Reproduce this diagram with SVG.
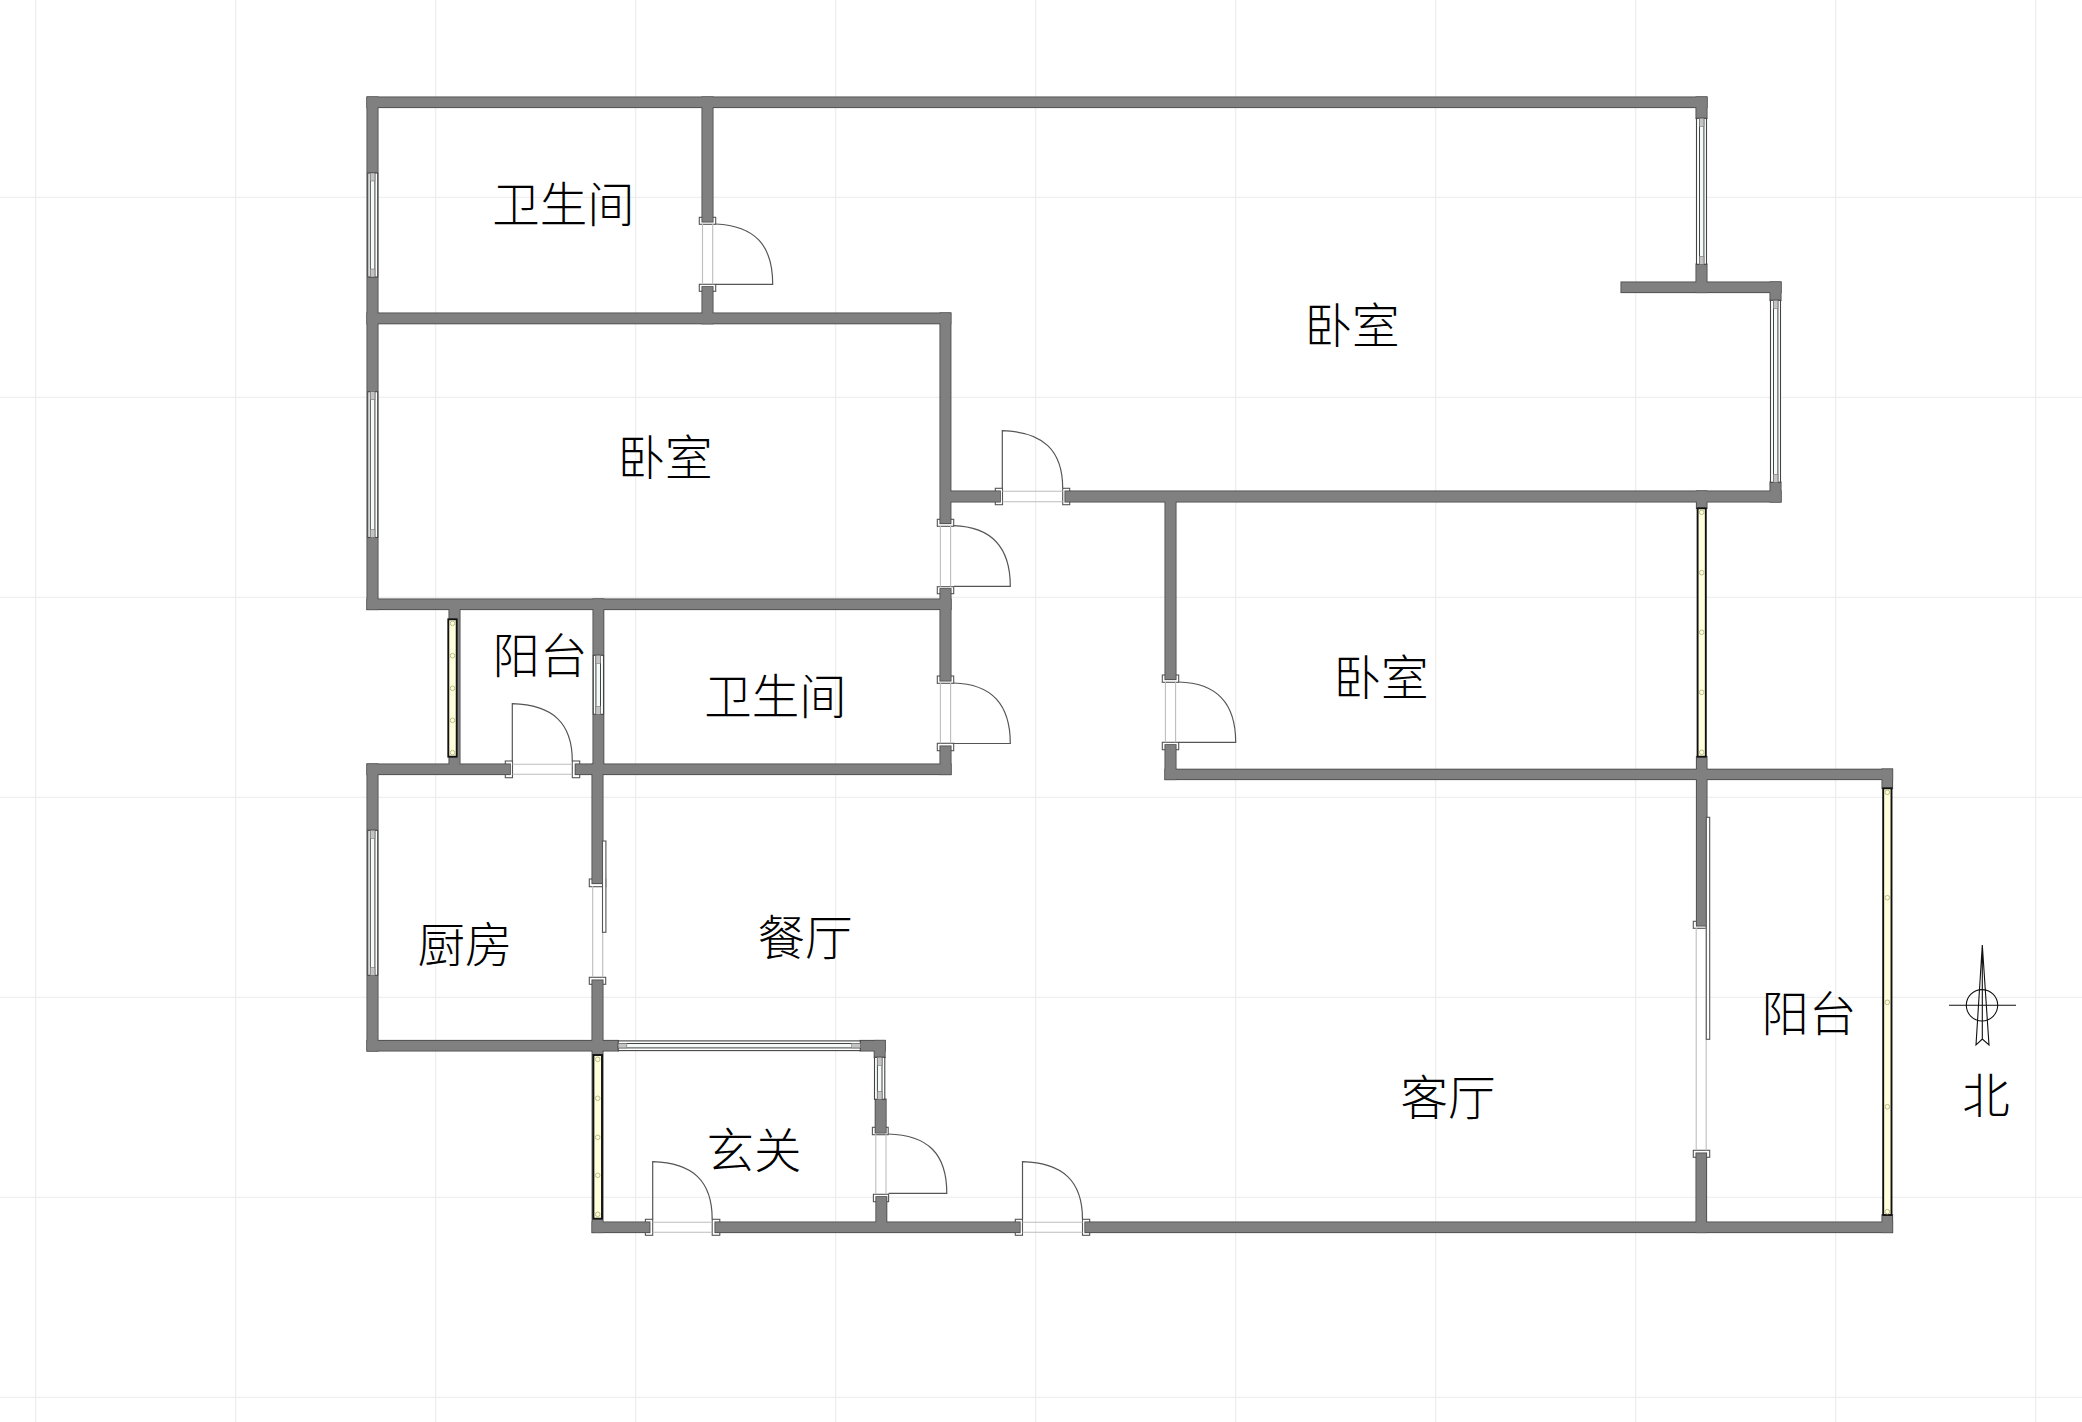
<svg xmlns="http://www.w3.org/2000/svg" xmlns:xlink="http://www.w3.org/1999/xlink" width="2082" height="1422" viewBox="0 0 2082 1422">
<style>
.grid{stroke:#ebebeb;stroke-width:1;fill:none}
.wo{fill:#808080;stroke:#444;stroke-width:1.6}
.wf{fill:#808080;stroke:none}
.cap{fill:#fff;stroke:#555;stroke-width:1.1}
.gap{stroke:#bdbdbd;stroke-width:1.1;fill:none}
.leaf{fill:none;stroke:#555;stroke-width:1.2}
.wino{fill:#fbfefc;stroke:#444;stroke-width:1.1}
.wini{fill:#f4faf7;stroke:#444;stroke-width:1}
.wing{fill:#c4c4c4;stroke:#777;stroke-width:.6}
.bar{fill:#ffffdc;stroke:#111;stroke-width:1.9}
.dot{fill:#ffffe0;stroke:#bdbd80;stroke-width:1}
.label{font-family:"Noto Sans CJK SC","Noto Sans",sans-serif;font-size:47.5px;font-weight:300;fill:#000;text-anchor:middle}
.cmp{fill:none;stroke:#111;stroke-width:1.1}
</style>
<defs>
<g id="wallset">
<rect x="367.3" y="97.3" width="1339.4" height="10"/>
<rect x="367.3" y="97.3" width="10.4" height="512"/>
<rect x="702.3" y="97.3" width="10.4" height="124.4"/>
<rect x="702.3" y="287" width="10.4" height="36.5"/>
<rect x="367.3" y="313.3" width="583.2" height="10.2"/>
<rect x="940.3" y="313.3" width="10.3" height="210"/>
<rect x="940.3" y="589" width="10.4" height="91.7"/>
<rect x="940.3" y="746.3" width="10.4" height="28"/>
<rect x="367.3" y="599.3" width="583.4" height="10"/>
<rect x="367.3" y="764.3" width="142.7" height="10"/>
<rect x="575.5" y="764.3" width="375.2" height="10"/>
<rect x="593.3" y="599.3" width="10.2" height="170"/>
<rect x="592.3" y="764.3" width="10.4" height="119"/>
<rect x="592.3" y="980.3" width="10.4" height="70.4"/>
<rect x="592.4" y="1040.7" width="10.3" height="191.6"/>
<rect x="449.3" y="605" width="10.4" height="165"/>
<rect x="367.3" y="764.3" width="10.4" height="286.4"/>
<rect x="367.3" y="1040.7" width="250.9" height="10"/>
<rect x="860.3" y="1040.7" width="24.5" height="10"/>
<rect x="874.5" y="1040.7" width="10.3" height="16.6"/>
<rect x="875.5" y="1099.3" width="10.3" height="33.4"/>
<rect x="876.2" y="1197" width="10.3" height="32"/>
<rect x="592.4" y="1222.3" width="57.2" height="10"/>
<rect x="715.3" y="1222.3" width="304.5" height="10"/>
<rect x="1085.2" y="1222.3" width="807.1" height="10"/>
<rect x="1882.3" y="769.3" width="10" height="19"/>
<rect x="1882.3" y="1215" width="10" height="17.3"/>
<rect x="1165.3" y="769.5" width="727" height="9.8"/>
<rect x="1165.3" y="495" width="10.4" height="184.3"/>
<rect x="1165.3" y="745" width="10.4" height="34.3"/>
<rect x="1696.7" y="491.3" width="10" height="17"/>
<rect x="1696.7" y="756.7" width="10" height="169"/>
<rect x="1696.3" y="1153.3" width="10" height="79"/>
<rect x="1696.3" y="97.3" width="10.4" height="21"/>
<rect x="1696.3" y="264.3" width="10.4" height="28"/>
<rect x="1621.3" y="282.3" width="159.4" height="10"/>
<rect x="1770.3" y="282.3" width="10.4" height="18"/>
<rect x="1770.3" y="482.3" width="10.4" height="19.4"/>
<rect x="945" y="491.3" width="55" height="10.4"/>
<rect x="1065.3" y="491.3" width="715.4" height="10.4"/>
</g>
</defs>
<rect width="2082" height="1422" fill="#fff"/>
<g id="grid" class="grid">
<path d="M35.7 0V1422M235.7 0V1422M435.7 0V1422M635.7 0V1422M835.7 0V1422M1035.7 0V1422M1235.7 0V1422M1435.7 0V1422M1635.7 0V1422M1835.7 0V1422M2035.7 0V1422"/>
<path d="M0 197.3H2082M0 397.3H2082M0 597.3H2082M0 797.3H2082M0 997.3H2082M0 1197.3H2082M0 1397.3H2082"/>
</g>
<g id="door-openings">
<rect class="cap" x="699.3" y="217.3" width="16.4" height="7"/><rect class="cap" x="699.3" y="284.3" width="16.4" height="7"/>
<rect class="cap" x="995.3" y="488.3" width="7.2" height="16.4"/><rect class="cap" x="1062.7" y="488.3" width="7" height="16.4"/>
<rect class="cap" x="937.3" y="519.3" width="16.4" height="7"/><rect class="cap" x="937.3" y="586.7" width="16.4" height="7"/>
<rect class="cap" x="937.3" y="676" width="16.4" height="7.3"/><rect class="cap" x="937.3" y="743.3" width="16.4" height="7.4"/>
<rect class="cap" x="1162.3" y="675" width="16.4" height="7.3"/><rect class="cap" x="1162.3" y="742.3" width="16.4" height="7.4"/>
<rect class="cap" x="505.3" y="761" width="7.2" height="16.7"/><rect class="cap" x="572.3" y="761" width="7.4" height="16.7"/>
<rect class="cap" x="589.3" y="879" width="16.4" height="7.7"/><rect class="cap" x="589.3" y="977.3" width="16.4" height="7"/>
<rect class="cap" x="872.4" y="1127.3" width="15.8" height="7.4"/><rect class="cap" x="873.4" y="1194.3" width="15.2" height="7.4"/>
<rect class="cap" x="645.4" y="1219.3" width="7.3" height="16"/><rect class="cap" x="712.2" y="1219.3" width="7.6" height="16"/>
<rect class="cap" x="1015.3" y="1219.3" width="7.2" height="16"/><rect class="cap" x="1082.5" y="1219.3" width="7.2" height="16"/>
<rect class="cap" x="1693.3" y="921.3" width="13" height="7"/><rect class="cap" x="1693.3" y="1150.3" width="16.4" height="7"/>
<path class="gap" d="M702.5 224V284.3M712.7 224V284.3M1002.5 491.3H1062.7M1002.5 501.7H1062.7M940.4 526V586.7M950.6 526V586.7M940.4 683V743.3M950.6 683V743.3M1165.4 682V742.3M1175.6 682V742.3M512.5 764.3H572.3M512.5 774.3H572.3M592.7 886V977.3M602.7 886V977.3M875.8 1134V1194.3M886 1134V1194.3M652.7 1222.3H712.2M652.7 1232.3H712.2M1022.5 1222.3H1082.5M1022.5 1232.3H1082.5M1696.2 928V1150.3M1706.2 928V1150.3"/>
</g>
<g id="walls">
<use xlink:href="#wallset" href="#wallset" class="wo"/>
<use xlink:href="#wallset" href="#wallset" class="wf"/>
</g>
<g id="windows">
<g id="window-1"><rect class="wino" x="367.8" y="173" width="9.9" height="104"/><rect class="wini" x="370.3" y="173" width="4.6" height="104"/><rect class="wing" x="370.3" y="173" width="4.6" height="8"/><rect class="wing" x="370.3" y="269" width="4.6" height="8"/></g>
<g id="window-2"><rect class="wino" x="367.8" y="391.7" width="9.9" height="145.8"/><rect class="wini" x="370.3" y="391.7" width="4.6" height="145.8"/><rect class="wing" x="370.3" y="391.7" width="4.6" height="8"/><rect class="wing" x="370.3" y="529.5" width="4.6" height="8"/></g>
<g id="window-3"><rect class="wino" x="367.8" y="830.3" width="9.9" height="145"/><rect class="wini" x="370.3" y="830.3" width="4.6" height="145"/><rect class="wing" x="370.3" y="830.3" width="4.6" height="8"/><rect class="wing" x="370.3" y="967.3" width="4.6" height="8"/></g>
<g id="window-4"><rect class="wino" x="593.3" y="655.3" width="10.2" height="59"/><rect class="wini" x="595.9" y="655.3" width="4.6" height="59"/><rect class="wing" x="595.9" y="655.3" width="4.6" height="8"/><rect class="wing" x="595.9" y="706.3" width="4.6" height="8"/></g>
<g id="window-5"><rect class="wino" x="874.5" y="1057.3" width="10.3" height="42"/><rect class="wini" x="877.4" y="1057.3" width="4.6" height="42"/><rect class="wing" x="877.4" y="1057.3" width="4.6" height="8"/><rect class="wing" x="877.4" y="1091.3" width="4.6" height="8"/></g>
<g id="window-6"><rect class="wino" x="1696.5" y="118.3" width="10" height="146"/><rect class="wini" x="1699.5" y="118.3" width="4.4" height="146"/><rect class="wing" x="1699.5" y="118.3" width="4.4" height="8"/><rect class="wing" x="1699.5" y="256.3" width="4.4" height="8"/></g>
<g id="window-7"><rect class="wino" x="1770.5" y="300.3" width="10" height="182"/><rect class="wini" x="1773.5" y="300.3" width="4.4" height="182"/><rect class="wing" x="1773.5" y="300.3" width="4.4" height="8"/><rect class="wing" x="1773.5" y="474.3" width="4.4" height="8"/></g>
<g id="window-8"><rect class="wino" x="618.2" y="1040.9" width="242.1" height="9.7"/><rect class="wini" x="618.2" y="1043.5" width="242.1" height="4.4"/><rect class="wing" x="618.2" y="1043.5" width="8.6" height="4.4"/><rect class="wing" x="851.7" y="1043.5" width="8.6" height="4.4"/></g>
</g>
<g id="glass-bars">
<g id="bar-1"><rect class="bar" x="448.3" y="619.3" width="8.4" height="137.4"/><circle class="dot" cx="452.5" cy="623.3" r="2.3"/><circle class="dot" cx="452.5" cy="655.7" r="2.3"/><circle class="dot" cx="452.5" cy="688.3" r="2.3"/><circle class="dot" cx="452.5" cy="720.3" r="2.3"/><circle class="dot" cx="452.5" cy="752.7" r="2.3"/></g>
<g id="bar-2"><rect class="bar" x="593.4" y="1055" width="8.6" height="163.7"/><circle class="dot" cx="597.7" cy="1059.3" r="2.3"/><circle class="dot" cx="597.7" cy="1098.3" r="2.3"/><circle class="dot" cx="597.7" cy="1137.3" r="2.3"/><circle class="dot" cx="597.7" cy="1175.3" r="2.3"/><circle class="dot" cx="597.7" cy="1214.3" r="2.3"/></g>
<g id="bar-3"><rect class="bar" x="1697.6" y="508.3" width="8.2" height="248.4"/><circle class="dot" cx="1701.7" cy="512.3" r="2.3"/><circle class="dot" cx="1701.7" cy="572.7" r="2.3"/><circle class="dot" cx="1701.7" cy="632.3" r="2.3"/><circle class="dot" cx="1701.7" cy="692.3" r="2.3"/><circle class="dot" cx="1701.7" cy="752.3" r="2.3"/></g>
<g id="bar-4"><rect class="bar" x="1883.2" y="788.3" width="8.3" height="426.7"/><circle class="dot" cx="1887.3" cy="792.3" r="2.3"/><circle class="dot" cx="1887.3" cy="897.7" r="2.3"/><circle class="dot" cx="1887.3" cy="1002.3" r="2.3"/><circle class="dot" cx="1887.3" cy="1106.7" r="2.3"/><circle class="dot" cx="1887.3" cy="1211.7" r="2.3"/></g>
</g>
<g id="door-leaves">
<path class="leaf" d="M715.7 224C755 226 772.7 245 772.7 284.3H715.7"/>
<path class="leaf" d="M1002.3 488.3V430.7C1043 432 1062.7 450 1062.7 488.3"/>
<path class="leaf" d="M953.7 525.7C992 527 1010.3 547 1010.3 586.3H953.7"/>
<path class="leaf" d="M953.7 683C992 684 1010.3 704 1010.3 743.5H953.7"/>
<path class="leaf" d="M1178.7 682C1217 683 1235.7 703 1235.7 742.3H1178.7"/>
<path class="leaf" d="M512.3 761V703.7C553 705 572.3 723 572.3 761"/>
<path class="leaf" d="M888.2 1134C928 1135 946.8 1154 946.8 1193.3H888.6"/>
<path class="leaf" d="M652.7 1219.3V1161.7C693 1163 712.2 1181 712.2 1219.3"/>
<path class="leaf" d="M1022.5 1219.3V1161.7C1063 1163 1082.5 1181 1082.5 1219.3"/>
<rect class="cap" x="602.5" y="841" width="3.4" height="91.3"/>
<rect class="cap" x="1706.3" y="817.3" width="3.4" height="222"/>
</g>
<g id="labels">
<text class="label" x="563.5" y="222">卫生间</text>
<text class="label" x="1352" y="343">卧室</text>
<text class="label" x="665" y="475">卧室</text>
<text class="label" x="1381" y="695">卧室</text>
<text class="label" x="540" y="673">阳台</text>
<text class="label" x="775.5" y="714">卫生间</text>
<text class="label" x="465" y="962">厨房</text>
<text class="label" x="805" y="955">餐厅</text>
<text class="label" x="1448" y="1115">客厅</text>
<text class="label" x="754" y="1168">玄关</text>
<text class="label" x="1809" y="1031">阳台</text>
<text class="label" x="1986" y="1113">北</text>
</g>
<g id="compass" class="cmp">
<path d="M1949 1005.3H2016"/>
<circle cx="1982" cy="1005.3" r="15.7"/>
<path d="M1982.3 945L1976 1045L1982.3 1039L1989 1045ZM1982.3 945V1039"/>
</g>
</svg>
